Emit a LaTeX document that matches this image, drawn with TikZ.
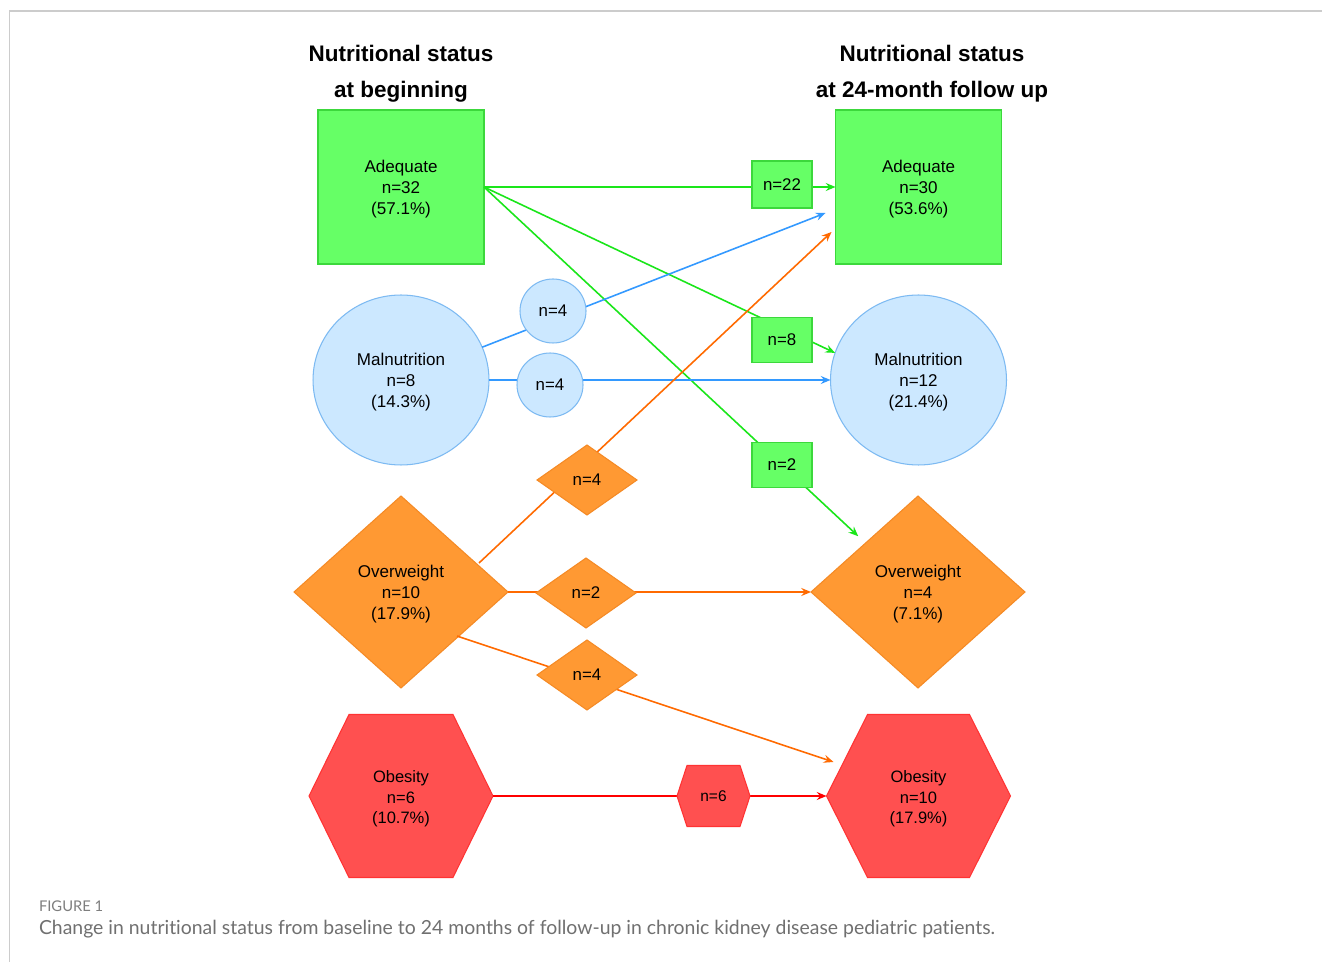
\documentclass[tikz,border=0pt]{standalone}
\usepackage{fontspec}
\setmainfont{Liberation Sans}
\newfontfamily\capfont[Ligatures={NoCommon,NoRare,NoDiscretionary}]{Lato}
\usetikzlibrary{shapes.geometric,arrows.meta,calc,backgrounds}

\definecolor{gfill}{HTML}{66FF66}
\definecolor{gdraw}{HTML}{3CD83C}
\definecolor{gline}{HTML}{1AE61A}
\definecolor{bfill}{HTML}{CCE8FF}
\definecolor{bdraw}{HTML}{7DBAF2}
\definecolor{bline}{HTML}{3399FF}
\definecolor{ofill}{HTML}{FF9933}
\definecolor{odraw}{HTML}{F58A25}
\definecolor{oline}{HTML}{FF6A00}
\definecolor{rfill}{HTML}{FF5050}
\definecolor{rdraw}{HTML}{FF3333}
\definecolor{rline}{HTML}{FF0000}
\definecolor{framegray}{HTML}{CCCCCC}
\definecolor{capgray}{HTML}{707070}
\newcommand{\topstrut}{\rule{0pt}{9.6pt}}

\begin{document}
\begin{tikzpicture}[x=0.02cm,y=-0.02cm,
  every node/.style={inner sep=0pt, outer sep=0pt},
  maintxt/.style={align=center, font=\fontsize{9.7}{11.8}\selectfont},
  lbltxt/.style={align=center, font=\fontsize{9.6}{11.5}\selectfont},
  bigsq/.style={maintxt, rectangle, fill=gfill, draw=gdraw, line width=0.6pt, minimum width=3.32cm, minimum height=3.08cm},
  bigel/.style={maintxt, ellipse, fill=bfill, draw=bdraw, line width=0.6pt, minimum width=3.52cm, minimum height=3.40cm},
  bigdia/.style={maintxt, diamond, fill=ofill, draw=odraw, line width=0.6pt, minimum width=4.28cm, minimum height=3.84cm},
  bighex/.style={rectangle, minimum width=3.68cm, minimum height=3.26cm},
  hexshape/.style={fill=rfill, draw=rdraw, line width=0.6pt},
  smsq/.style={lbltxt, rectangle, fill=gfill, draw=gdraw, line width=0.6pt, minimum width=1.2cm, minimum height=0.9cm},
  smel/.style={lbltxt, ellipse, fill=bfill, draw=bdraw, line width=0.6pt, minimum width=1.32cm, minimum height=1.28cm},
  smdia/.style={lbltxt, diamond, fill=ofill, draw=odraw, line width=0.6pt, minimum width=2.0cm, minimum height=1.4cm},
  smhex/.style={rectangle, minimum width=1.46cm, minimum height=1.22cm},
  hexpath/.style 2 args={insert path={(#1.west) -- ($(#1.north west)+(#2,0)$) -- ($(#1.north east)+(-#2,0)$) -- (#1.east) -- ($(#1.south east)+(-#2,0)$) -- ($(#1.south west)+(#2,0)$) -- cycle}},
  conn/.style={line width=0.9pt, -{Stealth[length=5.6pt,width=4.6pt,inset=2pt]}},
  gl/.style={conn, draw=gline},
  bl/.style={conn, draw=bline},
  ol/.style={conn, draw=oline},
  rl/.style={conn, draw=rline},
  title/.style={font=\fontsize{12.8}{15}\selectfont\bfseries, anchor=base}
]
\useasboundingbox (0,0) rectangle (1322,962);
\fill[white] (0,0) rectangle (1322,962);
\draw[framegray, line width=0.6pt] (9.5,962) -- (9.5,11) -- (1322,11);

% titles
\node[title] (t1a) at (401,61.5) {Nutritional status};
\node[title] (t1b) at (401,98) {at beginning};
\node[title] (t2a) at (932,61.5) {Nutritional status};
\node[title] (t2b) at (932,98) {at 24-month follow up};

% main nodes, left
\node[bigsq] (adL) at (401,187) {\topstrut Adequate\\n=32\\(57.1\%)};
\node[bigel] (malL) at (401,380) {\topstrut Malnutrition\\n=8\\(14.3\%)};
\node[bigdia] (owL) at (401,592) {\topstrut Overweight\\n=10\\(17.9\%)};
\node[bighex] (obL) at (401,796) {};
% main nodes, right
\node[bigsq] (adR) at (918.5,187) {\topstrut Adequate\\n=30\\(53.6\%)};
\node[bigel] (malR) at (918.5,380) {\topstrut Malnutrition\\n=12\\(21.4\%)};
\node[bigdia] (owR) at (918,592) {\topstrut Overweight\\n=4\\(7.1\%)};
\node[bighex] (obR) at (918.5,796) {};
\filldraw[hexshape, hexpath={obL}{40}];
\filldraw[hexshape, hexpath={obR}{41}];
\node[maintxt, font=\fontsize{9.4}{11.8}\selectfont] (obLt) at (obL) {\rule{0pt}{10pt}Obesity\\n=6\\(10.7\%)};
\node[maintxt, font=\fontsize{9.4}{11.8}\selectfont] (obRt) at (obR) {\rule{0pt}{10pt}Obesity\\n=10\\(17.9\%)};

% connectors
\draw[gl] (adL.east) -- (adR.west);
\draw[gl] (adL.east) -- (malR.162);
\draw[gl, shorten >=0.2cm] (adL.east) -- (owR);
\draw[bl] (malL.22) -- ($(adR.west)+(-10,26)$);
\draw[bl] (malL.east) -- (malR.west);
\draw[ol] ($(owL.center)+(78,-29)$) -- ($(adR.west)+(-4,45)$);
\draw[ol] (owL.east) -- (owR.west);
\draw[ol] ($(owL.center)+(56,44)$) -- ($(obR.west)+(7,-34)$);
\draw[rl] (obL.east) -- (obR.west);

% labels
\node[smsq, minimum height=0.94cm] (l22) at (782,184.5) {n=22};
\node[smsq] (l8) at (782,340) {n=8};
\node[smsq] (l2) at (782,465) {n=2};
\node[smel] (lb1) at (553,311) {n=4};
\node[smel] (lb2) at (550,385) {n=4};
\node[smdia] (lo1) at (587,480) {n=4};
\node[smdia] (lo2) at (586,593) {n=2};
\node[smdia] (lo3) at (587,675) {n=4};
\node[smhex] (lr) at (713.5,796) {};
\filldraw[hexshape, hexpath={lr}{10}];
\node[lbltxt, font=\fontsize{8.8}{10.5}\selectfont] (lrt) at (lr) {n=6};

% caption
\node[anchor=base west, font=\capfont\fontsize{8.4}{10}\selectfont, text=capgray!90] (fig) at (39,911) {FIGURE 1};
\node[anchor=base west, font=\capfont\fontsize{11.05}{13}\selectfont, text=capgray] (cap) at (39,934) {Change in nutritional status from baseline to 24 months of follow-up in chronic kidney disease pediatric patients.};
\end{tikzpicture}
\end{document}
